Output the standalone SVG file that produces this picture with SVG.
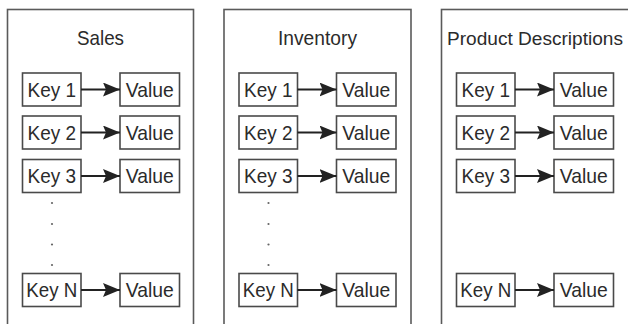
<svg xmlns="http://www.w3.org/2000/svg" width="628" height="324" viewBox="0 0 628 324">
<defs>
<style>
.panel{fill:#fff;stroke:#5a5a5a;stroke-width:1.6}
.box{fill:#fff;stroke:#4a4a4a;stroke-width:1.6}
.t{font-family:"Liberation Sans",Arial,sans-serif;font-size:21px;fill:#2b2b2b;text-anchor:middle}
.conn{stroke:#222;stroke-width:2.2;fill:none}
.dot{fill:#666}
</style>
<marker id="ah" viewBox="0 0 17 14" refX="17" refY="7" markerWidth="17" markerHeight="14" markerUnits="userSpaceOnUse" orient="auto">
<path d="M0,0 L17,7 L0,14 L3,7 z" fill="#222"/>
</marker>
</defs>
<rect width="628" height="324" fill="#fff"/>

<!-- Panel 1: Sales -->
<g id="sales" transform="translate(7.5,0)">
<rect class="panel" x="0" y="9.5" width="186" height="330"/>
<text class="t" x="93" y="45" textLength="47" lengthAdjust="spacingAndGlyphs">Sales</text>
<g id="sales-key1"><rect class="box" x="15" y="73" width="58.5" height="33"/><text class="t" x="44.25" y="96.5" textLength="48.5" lengthAdjust="spacingAndGlyphs">Key 1</text></g>
<g id="sales-val1"><rect class="box" x="112.5" y="73" width="59.5" height="33"/><text class="t" x="142.25" y="96.5" textLength="48" lengthAdjust="spacingAndGlyphs">Value</text></g>
<g id="sales-key2"><rect class="box" x="15" y="116" width="58.5" height="33"/><text class="t" x="44.25" y="139.5" textLength="48.5" lengthAdjust="spacingAndGlyphs">Key 2</text></g>
<g id="sales-val2"><rect class="box" x="112.5" y="116" width="59.5" height="33"/><text class="t" x="142.25" y="139.5" textLength="48" lengthAdjust="spacingAndGlyphs">Value</text></g>
<g id="sales-key3"><rect class="box" x="15" y="159.5" width="58.5" height="33"/><text class="t" x="44.25" y="183" textLength="48.5" lengthAdjust="spacingAndGlyphs">Key 3</text></g>
<g id="sales-val3"><rect class="box" x="112.5" y="159.5" width="59.5" height="33"/><text class="t" x="142.25" y="183" textLength="48" lengthAdjust="spacingAndGlyphs">Value</text></g>
<g id="sales-dots"><circle class="dot" cx="44.5" cy="203" r="1.1"/><circle class="dot" cx="44.5" cy="224" r="1.1"/><circle class="dot" cx="44.5" cy="244.5" r="1.1"/><circle class="dot" cx="44.5" cy="265" r="1.1"/></g>
<g id="sales-keyN"><rect class="box" x="15" y="273.5" width="58.5" height="33"/><text class="t" x="44.25" y="297" textLength="51" lengthAdjust="spacingAndGlyphs">Key N</text></g>
<g id="sales-valN"><rect class="box" x="112.5" y="273.5" width="59.5" height="33"/><text class="t" x="142.25" y="297" textLength="48" lengthAdjust="spacingAndGlyphs">Value</text></g>
<g id="sales-connectors">
<line class="conn" x1="73.5" y1="89.5" x2="112.5" y2="89.5" marker-end="url(#ah)"/>
<line class="conn" x1="73.5" y1="132.5" x2="112.5" y2="132.5" marker-end="url(#ah)"/>
<line class="conn" x1="73.5" y1="176" x2="112.5" y2="176" marker-end="url(#ah)"/>
<line class="conn" x1="73.5" y1="290" x2="112.5" y2="290" marker-end="url(#ah)"/>
</g>
</g>

<!-- Panel 2: Inventory -->
<g id="inventory" transform="translate(224,0)">
<rect class="panel" x="0" y="9.5" width="187" height="330"/>
<text class="t" x="93.5" y="45" textLength="79" lengthAdjust="spacingAndGlyphs">Inventory</text>
<g id="inv-key1"><rect class="box" x="15" y="73" width="58.5" height="33"/><text class="t" x="44.25" y="96.5" textLength="48.5" lengthAdjust="spacingAndGlyphs">Key 1</text></g>
<g id="inv-val1"><rect class="box" x="112.5" y="73" width="59.5" height="33"/><text class="t" x="142.25" y="96.5" textLength="48" lengthAdjust="spacingAndGlyphs">Value</text></g>
<g id="inv-key2"><rect class="box" x="15" y="116" width="58.5" height="33"/><text class="t" x="44.25" y="139.5" textLength="48.5" lengthAdjust="spacingAndGlyphs">Key 2</text></g>
<g id="inv-val2"><rect class="box" x="112.5" y="116" width="59.5" height="33"/><text class="t" x="142.25" y="139.5" textLength="48" lengthAdjust="spacingAndGlyphs">Value</text></g>
<g id="inv-key3"><rect class="box" x="15" y="159.5" width="58.5" height="33"/><text class="t" x="44.25" y="183" textLength="48.5" lengthAdjust="spacingAndGlyphs">Key 3</text></g>
<g id="inv-val3"><rect class="box" x="112.5" y="159.5" width="59.5" height="33"/><text class="t" x="142.25" y="183" textLength="48" lengthAdjust="spacingAndGlyphs">Value</text></g>
<g id="inv-dots"><circle class="dot" cx="44.5" cy="203" r="1.1"/><circle class="dot" cx="44.5" cy="224" r="1.1"/><circle class="dot" cx="44.5" cy="244.5" r="1.1"/><circle class="dot" cx="44.5" cy="265" r="1.1"/></g>
<g id="inv-keyN"><rect class="box" x="15" y="273.5" width="58.5" height="33"/><text class="t" x="44.25" y="297" textLength="51" lengthAdjust="spacingAndGlyphs">Key N</text></g>
<g id="inv-valN"><rect class="box" x="112.5" y="273.5" width="59.5" height="33"/><text class="t" x="142.25" y="297" textLength="48" lengthAdjust="spacingAndGlyphs">Value</text></g>
<g id="inv-connectors">
<line class="conn" x1="73.5" y1="89.5" x2="112.5" y2="89.5" marker-end="url(#ah)"/>
<line class="conn" x1="73.5" y1="132.5" x2="112.5" y2="132.5" marker-end="url(#ah)"/>
<line class="conn" x1="73.5" y1="176" x2="112.5" y2="176" marker-end="url(#ah)"/>
<line class="conn" x1="73.5" y1="290" x2="112.5" y2="290" marker-end="url(#ah)"/>
</g>
</g>

<!-- Panel 3: Product Descriptions -->
<g id="product-descriptions" transform="translate(441.5,0)">
<rect class="panel" x="0" y="9.5" width="188" height="330"/>
<text class="t" x="93.5" y="45" style="font-size:19.2px" textLength="176" lengthAdjust="spacingAndGlyphs">Product Descriptions</text>
<g id="pd-key1"><rect class="box" x="15" y="73" width="58.5" height="33"/><text class="t" x="44.25" y="96.5" textLength="48.5" lengthAdjust="spacingAndGlyphs">Key 1</text></g>
<g id="pd-val1"><rect class="box" x="112.5" y="73" width="59.5" height="33"/><text class="t" x="142.25" y="96.5" textLength="48" lengthAdjust="spacingAndGlyphs">Value</text></g>
<g id="pd-key2"><rect class="box" x="15" y="116" width="58.5" height="33"/><text class="t" x="44.25" y="139.5" textLength="48.5" lengthAdjust="spacingAndGlyphs">Key 2</text></g>
<g id="pd-val2"><rect class="box" x="112.5" y="116" width="59.5" height="33"/><text class="t" x="142.25" y="139.5" textLength="48" lengthAdjust="spacingAndGlyphs">Value</text></g>
<g id="pd-key3"><rect class="box" x="15" y="159.5" width="58.5" height="33"/><text class="t" x="44.25" y="183" textLength="48.5" lengthAdjust="spacingAndGlyphs">Key 3</text></g>
<g id="pd-val3"><rect class="box" x="112.5" y="159.5" width="59.5" height="33"/><text class="t" x="142.25" y="183" textLength="48" lengthAdjust="spacingAndGlyphs">Value</text></g>
<g id="pd-keyN"><rect class="box" x="15" y="273.5" width="58.5" height="33"/><text class="t" x="44.25" y="297" textLength="51" lengthAdjust="spacingAndGlyphs">Key N</text></g>
<g id="pd-valN"><rect class="box" x="112.5" y="273.5" width="59.5" height="33"/><text class="t" x="142.25" y="297" textLength="48" lengthAdjust="spacingAndGlyphs">Value</text></g>
<g id="pd-connectors">
<line class="conn" x1="73.5" y1="89.5" x2="112.5" y2="89.5" marker-end="url(#ah)"/>
<line class="conn" x1="73.5" y1="132.5" x2="112.5" y2="132.5" marker-end="url(#ah)"/>
<line class="conn" x1="73.5" y1="176" x2="112.5" y2="176" marker-end="url(#ah)"/>
<line class="conn" x1="73.5" y1="290" x2="112.5" y2="290" marker-end="url(#ah)"/>
</g>
</g>
</svg>
